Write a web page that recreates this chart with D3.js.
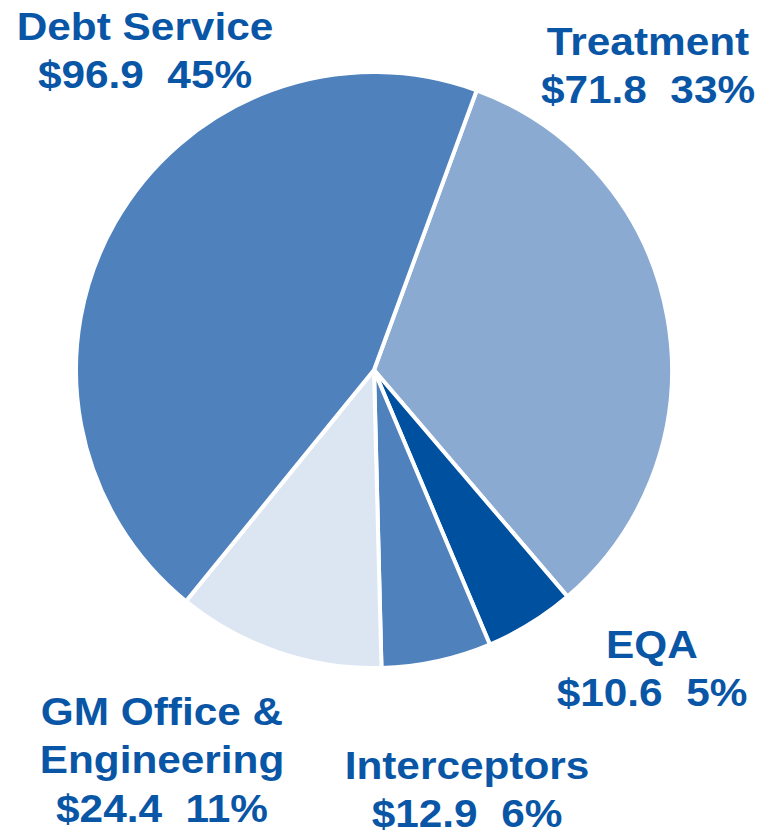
<!DOCTYPE html>
<html>
<head>
<meta charset="utf-8">
<script src="https://cdn.jsdelivr.net/npm/d3@7"></script>
<style>
  body { margin: 0; background: #fff; }
  svg { display: block; }
  .lbl { font-family: "Liberation Sans", Arial, sans-serif; font-weight: bold; font-size: 39px; fill: #0A56A6; }
</style>
</head>
<body>
<svg class="pie" width="771" height="832"></svg>
<script>
// slice data, clockwise starting with Treatment
let names = ["Treatment", "EQA", "Interceptors", "GM Office &\nEngineering", "Debt Service"];
let amounts = [71.8, 10.6, 12.9, 24.4, 96.9];
let percents = ["33%", "5%", "6%", "11%", "45%"];
let colors = ["#8AAAD2", "#0050A0", "#4F81BD", "#DCE6F2", "#4F81BD"];

// label anchor spots (centre x, first baseline y)
let labelPos = [[648, 55], [652, 658], [467, 779], [162, 725], [145, 40]];

let drawPie = function() {
  let svg = d3.select("body").select(".pie");
  let cx = 374, cy = 370, radius = 298;

  let data = names.map((n, i) => ({name: n, amount: amounts[i], pct: percents[i], color: colors[i]}));

  let pie = d3.pie()
    .value(d => d.amount)
    .sort(null)
    .startAngle(0.352)
    .endAngle(0.352 + 2 * Math.PI);

  let arc = d3.arc().innerRadius(0).outerRadius(radius);

  let plot = svg.append("g").attr("transform", translate(cx, cy));
  plot.selectAll("path")
    .data(pie(data))
    .enter().append("path")
    .attr("d", arc)
    .attr("fill", d => d.data.color)
    .attr("stroke", "#fff")
    .attr("stroke-width", 4)
    .attr("stroke-linejoin", "round");

  // labels (the original type is wide, so stretch horizontally)
  data.forEach(function(d, i) {
    let lines = d.name.split("\n");
    lines.push("$" + d.amount.toFixed(1) + "\u00a0\u00a0" + d.pct);
    let t = svg.append("text")
      .attr("class", "lbl")
      .attr("text-anchor", "middle")
      .attr("transform", translate(labelPos[i][0], labelPos[i][1]) + " scale(1.086,1)");
    lines.forEach(function(l, j) {
      t.append("tspan")
        .attr("x", 0)
        .attr("y", j * 48.5)
        .text(l);
    });
  });
};

function translate(x, y) {
  return 'translate(' + x + ',' + y + ')';
}

drawPie();
</script>
</body>
</html>
